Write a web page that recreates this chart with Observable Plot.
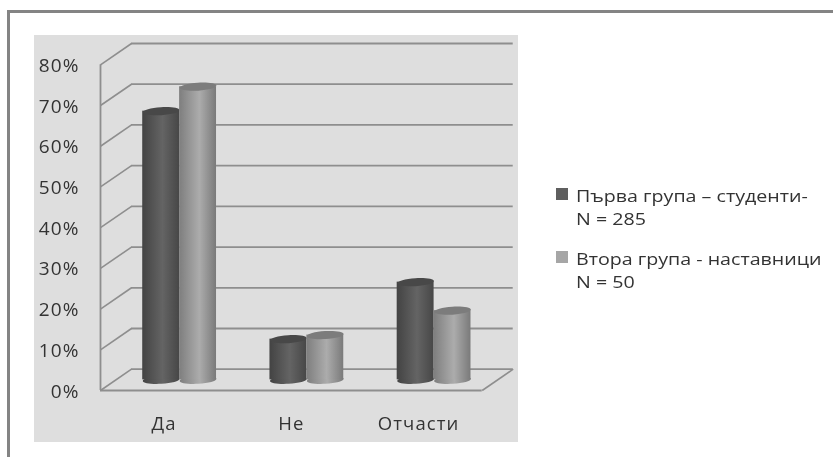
<!DOCTYPE html>
<html lang="bg">
<head>
<meta charset="utf-8">
<script src="https://cdn.jsdelivr.net/npm/d3@7"></script>
<script src="https://cdn.jsdelivr.net/npm/@observablehq/plot@0.6"></script>
<style>
html,body{margin:0;padding:0;background:#fff;overflow:hidden;width:833px;height:457px}
#frame{position:absolute;left:7px;top:10px;right:-5px;bottom:-5px;border:3px solid #848484}
#panel{position:absolute;left:34px;top:35px;width:484px;height:407px;background:#dedede}
#chart{position:absolute;left:0;top:0}
#chart svg{filter:blur(.45px)}
#chart svg text{letter-spacing:1.1px}
#legend{position:absolute;left:556px;top:183.5px;font:16.5px/23.5px "Open Sans",sans-serif;color:#333;filter:blur(.35px)}
#legend .item{position:relative;padding-left:20px;white-space:nowrap;margin-bottom:16px}
#legend i{position:absolute;left:0;top:4.5px;width:12px;height:12px}
#legend span{display:inline-block;transform:scaleX(1.19);transform-origin:0 50%}
</style>
</head>
<body>
<div id="frame"></div>
<div id="panel"></div>
<div id="chart"></div>
<div id="legend"></div>
<script>
const categories = ["Да", "Не", "Отчасти"];
const firstGroup = [66, 10, 24];
const secondGroup = [72, 11, 17];
const yTicks = [0, 10, 20, 30, 40, 50, 60, 70, 80];
const seriesNames = [["Първа група – студенти-", "N = 285"], ["Втора група - наставници", "N = 50"]];
const seriesColors = ["#5f5f5f", "#a6a6a6"];

// 3D box depth, in scale units
const depthX = 0.2437, depthY = 5.23, barW = 0.29;

const rows = categories.flatMap((c, i) => [
  {i, s: 0, v: firstGroup[i], x1: i + .5 + depthX / 2 - barW, x2: i + .5 + depthX / 2},
  {i, s: 1, v: secondGroup[i], x1: i + .5 + depthX / 2, x2: i + .5 + depthX / 2 + barW}
]).map(d => ({...d, cx: (d.x1 + d.x2) / 2, y0: depthY / 2}));

const ellipse = {draw(ctx) {
  const rx = 18.4, ry = 4, t = -0.06, k = 0.5523;
  const P = (x, y) => [x * Math.cos(t) - y * Math.sin(t), x * Math.sin(t) + y * Math.cos(t)];
  ctx.moveTo(...P(rx, 0));
  ctx.bezierCurveTo(...P(rx, k * ry), ...P(k * rx, ry), ...P(0, ry));
  ctx.bezierCurveTo(...P(-k * rx, ry), ...P(-rx, k * ry), ...P(-rx, 0));
  ctx.bezierCurveTo(...P(-rx, -k * ry), ...P(-k * rx, -ry), ...P(0, -ry));
  ctx.bezierCurveTo(...P(k * rx, -ry), ...P(rx, -k * ry), ...P(rx, 0));
  ctx.closePath();
}};

const wall = "#8e8e8e";
const series = s => rows.filter(d => d.s === s);
const barMarks = s => {
  const grad = `url(#cyl${s})`, top = s ? "#7c7c7c" : "#484848";
  return [
    Plot.dot(series(s), {x: "cx", y: "y0", r: 5, symbol: ellipse, fill: grad, stroke: null}),
    Plot.rect(series(s), {x1: "x1", x2: "x2", y1: "y0", y2: d => d.v + depthY / 2, fill: grad}),
    Plot.dot(series(s), {x: "cx", y: d => d.v + depthY / 2, r: 5, symbol: ellipse, fill: top, stroke: null})
  ];
};

const chart = Plot.plot({
  width: 833, height: 457,
  marginLeft: 100, marginRight: 351.3, marginTop: 64.3, marginBottom: 67,
  style: {background: "transparent", overflow: "visible"},
  x: {domain: [0, 3], axis: null},
  y: {domain: [0, 80], axis: null},
  marks: [
    Plot.ruleY(yTicks, {y: d => d + depthY, x1: depthX, x2: 3 + depthX, stroke: wall, strokeWidth: 1.8}),
    Plot.link(yTicks, {x1: 0, y1: d => d, x2: depthX, y2: d => d + depthY, stroke: wall, strokeWidth: 1.6}),
    Plot.link([0], {x1: 3, y1: 0, x2: 3 + depthX, y2: depthY, stroke: wall, strokeWidth: 1.6}),
    Plot.ruleX([0], {y1: 0, y2: 80, stroke: wall, strokeWidth: 1.8}),
    Plot.ruleY([0], {x1: 0, x2: 3, stroke: wall, strokeWidth: 1.8}),
    ...barMarks(0),
    ...barMarks(1),
    Plot.axisY({ticks: yTicks, tickSize: 0, tickPadding: 21, dy: 1, tickFormat: d => d + "%", fontSize: 19, fontFamily: "Open Sans", fill: "#333", label: null}),
    Plot.axisX({ticks: [0.5, 1.5, 2.5], tickSize: 0, tickPadding: 26, tickFormat: d => categories[d - .5], fontSize: 18.5, fontFamily: "Open Sans", fill: "#333", label: null})
  ]
});

const NS = "http://www.w3.org/2000/svg";
const defs = document.createElementNS(NS, "defs");
[["#434343", "#646464", "#474747"], ["#7e7e7e", "#acacac", "#7a7a7a"]].forEach((c, i) => {
  const g = document.createElementNS(NS, "linearGradient");
  g.id = "cyl" + i;
  [[0, c[0]], [.55, c[1]], [1, c[2]]].forEach(([o, col]) => {
    const st = document.createElementNS(NS, "stop");
    st.setAttribute("offset", o); st.setAttribute("stop-color", col);
    g.appendChild(st);
  });
  defs.appendChild(g);
});
chart.insertBefore(defs, chart.firstChild);
document.getElementById("chart").appendChild(chart);

const leg = document.getElementById("legend");
seriesNames.forEach((lines, i) => {
  const it = document.createElement("div");
  it.className = "item";
  it.innerHTML = `<i style="background:${seriesColors[i]}"></i><span>${lines[0]}</span><br><span>${lines[1]}</span>`;
  leg.appendChild(it);
});
</script>
</body>
</html>
